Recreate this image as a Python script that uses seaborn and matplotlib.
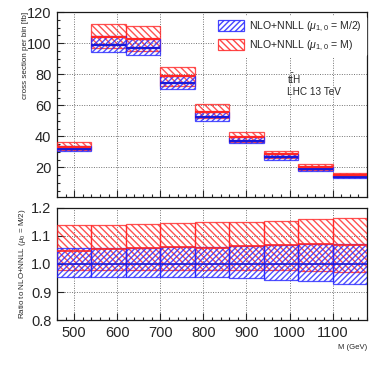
import numpy as np
import pandas as pd
import seaborn as sns
import matplotlib.pyplot as plt
from matplotlib.patches import Patch
from matplotlib.ticker import MultipleLocator, FormatStrFormatter

# bin edges in M (GeV)
bin_lo = [460, 540, 620, 700, 780, 860, 940, 1020, 1100]
bin_hi = [540, 620, 700, 780, 860, 940, 1020, 1100, 1180]

# cross section per bin [fb]
blue_c = [31.8, 99.0, 97.0, 74.2, 52.7, 37.3, 26.5, 19.0, 13.9]
blue_lo = [30.3, 94.3, 92.4, 70.7, 50.2, 35.4, 25.0, 17.9, 12.9]
blue_hi = [33.6, 104.7, 102.6, 78.6, 55.9, 39.7, 28.3, 20.4, 14.9]
red_c = [33.3, 104.3, 102.5, 78.7, 55.8, 39.7, 28.3, 20.4, 14.8]
red_lo = [31.1, 96.8, 94.9, 72.6, 51.5, 36.5, 25.9, 18.5, 13.5]
red_hi = [36.2, 112.7, 110.8, 85.0, 60.7, 42.9, 30.6, 22.0, 16.2]

# ratio to NLO+NNLL (mu = M/2)
r_blue_c = [1.0, 1.0, 1.0, 1.0, 1.0, 1.0, 1.0, 1.0, 1.0]
r_blue_lo = [0.954, 0.954, 0.954, 0.953, 0.952, 0.950, 0.944, 0.940, 0.930]
r_blue_hi = [1.057, 1.057, 1.058, 1.060, 1.061, 1.064, 1.068, 1.073, 1.072]
r_red_c = [1.048, 1.054, 1.057, 1.060, 1.058, 1.064, 1.067, 1.073, 1.066]
r_red_lo = [0.978, 0.978, 0.978, 0.978, 0.978, 0.978, 0.977, 0.974, 0.970]
r_red_hi = [1.138, 1.138, 1.142, 1.145, 1.151, 1.151, 1.154, 1.160, 1.163]

x_ticks = [500, 600, 700, 800, 900, 1000, 1100]
top_yticks = [20, 40, 60, 80, 100, 120]
ratio_yticks = [0.8, 0.9, 1.0, 1.1, 1.2]

label_blue = r"NLO+NNLL ($\mu_{1,0}$ = M/2)"
label_red = r"NLO+NNLL ($\mu_{1,0}$ = M)"

sns.set_theme(style="ticks")
plt.rcParams["font.family"] = ["Liberation Sans", "DejaVu Sans"]
plt.rcParams["mathtext.fontset"] = "custom"
plt.rcParams["mathtext.rm"] = "Liberation Sans"
plt.rcParams["mathtext.it"] = "Liberation Sans:italic"
plt.rcParams["hatch.linewidth"] = 1.0

BLUE = (0.15, 0.15, 1.0)
RED = (1.0, 0.15, 0.15)
HATCH_BLUE = "//////"
HATCH_RED = "\\\\\\\\\\"


def build_frame(lo, c, hi):
    df = pd.DataFrame({"lo": lo, "c": c, "hi": hi})
    df["left"] = bin_lo
    df["right"] = bin_hi
    df["mid"] = (df["left"] + df["right"]) / 2
    df["width"] = df["right"] - df["left"]
    return df


def draw_bands(ax, df, color, hatch):
    ax.bar(df["mid"], df["hi"] - df["lo"], bottom=df["lo"], width=df["width"],
           fill=False, hatch=hatch, edgecolor=color + (0.8,), linewidth=0.9, zorder=3)


def draw_centres(ax, df, color, lw=1.6):
    ax.hlines(df["c"], df["left"], df["right"], colors=[color], linewidth=lw, zorder=4)


def style_axes(ax):
    ax.set_xlim(460, 1180)
    ax.xaxis.set_major_locator(plt.FixedLocator(x_ticks))
    ax.xaxis.set_minor_locator(MultipleLocator(20))
    ax.tick_params(which="both", direction="in", top=False, right=False, labelsize=10.5, pad=4)
    ax.tick_params(which="major", length=5, width=0.8)
    ax.tick_params(which="minor", length=2.5, width=0.8)
    ax.grid(True, which="major", linestyle=(0, (1, 1.5)), color="0.45", linewidth=0.7, zorder=0)
    for s in ax.spines.values():
        s.set_linewidth(0.9)
        s.set_color("0.1")


fig = plt.figure(figsize=(3.82, 3.70), dpi=100)
ax_top = fig.add_axes([0.149, 0.468, 0.812, 0.499])
ax_rat = fig.add_axes([0.149, 0.135, 0.812, 0.303])

top_blue = build_frame(blue_lo, blue_c, blue_hi)
top_red = build_frame(red_lo, red_c, red_hi)
rat_blue = build_frame(r_blue_lo, r_blue_c, r_blue_hi)
rat_red = build_frame(r_red_lo, r_red_c, r_red_hi)

# top panel
draw_bands(ax_top, top_red, RED, HATCH_RED)
draw_bands(ax_top, top_blue, BLUE, HATCH_BLUE)
draw_centres(ax_top, top_blue, (0.1, 0.1, 0.85))
draw_centres(ax_top, top_red, RED)
style_axes(ax_top)
ax_top.set_ylim(1, 120)
ax_top.yaxis.set_major_locator(plt.FixedLocator(top_yticks))
ax_top.yaxis.set_minor_locator(MultipleLocator(5))
ax_top.tick_params(axis="x", labelbottom=False)
ax_top.set_xlabel("")
ax_top.set_ylabel("")

handles = [
    Patch(facecolor="white", edgecolor=BLUE + (0.85,), hatch=HATCH_BLUE, linewidth=0.9, label=label_blue),
    Patch(facecolor="white", edgecolor=RED + (0.85,), hatch=HATCH_RED, linewidth=0.9, label=label_red),
]
leg = ax_top.legend(handles=handles, loc="upper right", bbox_to_anchor=(1.0, 0.99), frameon=True,
                    fontsize=7.6, handlelength=2.4, handleheight=1.3, handletextpad=0.5,
                    labelspacing=0.45, borderaxespad=0.15, borderpad=0.35)
leg.get_frame().set_edgecolor("white")
leg.get_frame().set_facecolor("white")
leg.get_frame().set_alpha(1.0)
leg.set_zorder(5)

ax_top.text(0.742, 0.645, r"t$\bar{\rm t}$H", transform=ax_top.transAxes, fontsize=7.2, va="center")
ax_top.text(0.742, 0.57, "LHC 13 TeV", transform=ax_top.transAxes, fontsize=7.2, va="center")

# ratio panel
draw_bands(ax_rat, rat_red, RED, HATCH_RED)
draw_bands(ax_rat, rat_blue, BLUE, HATCH_BLUE)
draw_centres(ax_rat, rat_blue, (0.1, 0.1, 0.85), lw=1.2)
draw_centres(ax_rat, rat_red, RED, lw=1.2)
style_axes(ax_rat)
ax_rat.set_ylim(0.8, 1.2)
ax_rat.yaxis.set_major_locator(plt.FixedLocator(ratio_yticks))
ax_rat.yaxis.set_major_formatter(FormatStrFormatter("%.1f"))
ax_rat.set_xlabel("")
ax_rat.set_ylabel("")

fig.text(0.066, 0.968, "cross section per bin [fb]", rotation=90, ha="center", va="top", fontsize=5.8)
fig.text(0.058, 0.438, r"Ratio to NLO+NNLL ($\mu_0$ = M/2)", rotation=90, ha="center", va="top", fontsize=5.8)
fig.text(0.961, 0.062, "M (GeV)", ha="right", va="center", fontsize=5.6)

fig.savefig("out.png", dpi=100)
